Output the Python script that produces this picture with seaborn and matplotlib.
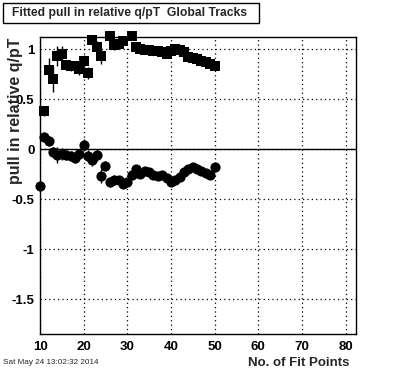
import numpy as np
import pandas as pd
import matplotlib
matplotlib.use("Agg")
import matplotlib.pyplot as plt
import seaborn as sns
from matplotlib.patches import Rectangle
from matplotlib.ticker import MultipleLocator

# ---- data ----
upper_x = [11, 12, 13, 14, 15, 16, 17, 18, 19, 20, 21, 22, 23, 24, 26, 27, 28, 29, 31,
           32, 33, 34, 35, 36, 37, 38, 39, 40, 41, 42, 43, 44, 45, 46, 47, 48, 49, 50]
upper_y = [0.38, 0.79, 0.70, 0.93, 0.95, 0.84, 0.83, 0.83, 0.80, 0.88, 0.76, 1.09, 1.02, 0.93,
           1.13, 1.04, 1.05, 1.08, 1.13,
           1.02, 1.00, 0.99, 0.99, 0.98, 0.98, 0.97, 0.95, 0.98, 1.00, 0.99, 0.97, 0.92, 0.91,
           0.90, 0.88, 0.87, 0.85, 0.83]
upper_err = [0.05, 0.12, 0.13, 0.10, 0.08, 0.05, 0.05, 0.05, 0.06, 0.06, 0.06, 0.05, 0.06, 0.08,
             0.04, 0.05, 0.04, 0.04, 0.03,
             0.03, 0.02, 0.02, 0.02, 0.02, 0.02, 0.02, 0.02, 0.02, 0.02, 0.02, 0.02, 0.02, 0.02,
             0.02, 0.02, 0.02, 0.02, 0.02]

lower_x = list(range(10, 51))
lower_y = [-0.37, 0.12, 0.08, -0.03, -0.06, -0.05, -0.06, -0.07, -0.09, -0.05, 0.04,
           -0.07, -0.11, -0.06, -0.27, -0.17, -0.33, -0.31, -0.31, -0.35, -0.33,
           -0.26, -0.20, -0.25, -0.22, -0.23, -0.26, -0.27, -0.26, -0.29, -0.33,
           -0.31, -0.28, -0.23, -0.20, -0.18, -0.20, -0.22, -0.24, -0.26, -0.18]
lower_err = [0.05, 0.05, 0.05, 0.05, 0.08, 0.06, 0.05, 0.05, 0.05, 0.05, 0.06,
             0.06, 0.06, 0.06, 0.07, 0.05, 0.05, 0.05, 0.04, 0.04, 0.04,
             0.03, 0.03, 0.03, 0.03, 0.03, 0.03, 0.03, 0.03, 0.03, 0.03,
             0.03, 0.03, 0.03, 0.03, 0.03, 0.03, 0.03, 0.03, 0.03, 0.03]

title = "Fitted pull in relative q/pT  Global Tracks"
xlabel = "No. of Fit Points"
ylabel = "pull in relative q/pT"
datestamp = "Sat May 24 13:02:32 2014"
xticks = [10, 20, 30, 40, 50, 60, 70, 80]
yticks = [-1.5, -1, -0.5, 0, 0.5, 1]
ytick_labels = ["-1.5", "-1", "-0.5", "0", "0.5", "1"]

# ---- figure ----
sns.set_style("white")
plt.rcParams['font.family'] = ['Liberation Sans', 'DejaVu Sans']
W, H = 396, 372
fig = plt.figure(figsize=(W / 100, H / 100), dpi=100)
ax = fig.add_axes([40 / W, 1 - 334 / H, (356 - 40) / W, (334 - 37) / H])

df_u = pd.DataFrame({"x": upper_x, "y": upper_y, "e": upper_err})
df_l = pd.DataFrame({"x": lower_x, "y": lower_y, "e": lower_err})

ax.errorbar(df_u["x"], df_u["y"], yerr=df_u["e"], fmt="none", ecolor="black", elinewidth=1, capsize=0, zorder=3)
ax.errorbar(df_l["x"], df_l["y"], yerr=df_l["e"], fmt="none", ecolor="black", elinewidth=1, capsize=0, zorder=3)
sns.scatterplot(data=df_u, x="x", y="y", marker="s", s=44, color="black", edgecolor="black",
                linewidth=0, ax=ax, zorder=4, clip_on=False)
sns.scatterplot(data=df_l, x="x", y="y", marker="o", s=54, color="black", edgecolor="black",
                linewidth=0, ax=ax, zorder=4, clip_on=False)

ax.axhline(0, color="black", linewidth=1, zorder=2)

ax.set_xlim(10, 82.4)
ax.set_ylim(-1.85, 1.123)
ax.set_xticks(xticks)
ax.set_yticks(yticks)
ax.set_yticklabels(ytick_labels)
ax.xaxis.set_minor_locator(MultipleLocator(2))
ax.yaxis.set_minor_locator(MultipleLocator(0.1))
ax.tick_params(axis="both", which="both", direction="in", top=False, right=False,
               labelsize=9.5, colors="black")
ax.tick_params(axis="x", which="major", length=9, width=1, pad=5)
ax.tick_params(axis="y", which="major", length=9, width=1, pad=4)
ax.tick_params(axis="both", which="minor", length=4.5, width=1)
for lab in ax.get_xticklabels() + ax.get_yticklabels():
    lab.set_fontweight("bold")
ax.grid(True, which="major", linestyle=(0, (1, 2.5)), color="black", linewidth=0.9)
for sp in ax.spines.values():
    sp.set_color("black")
    sp.set_linewidth(1)
ax.set_xlabel("")
ax.set_ylabel("")

fig.text(349 / W, 1 - 363 / H, xlabel, ha="right", va="center", fontsize=9.5, fontweight="bold")
fig.text(16 / W, 1 - 38 / H, ylabel, ha="center", va="top", rotation=90, fontsize=11.5, fontweight="bold")
fig.text(3 / W, 1 - 363 / H, datestamp, ha="left", va="center", fontsize=5.85)

fig.patches.append(Rectangle((3 / W, 1 - 23 / H), 256 / W, 20 / H, transform=fig.transFigure,
                             facecolor="white", edgecolor="black", linewidth=1))
fig.text(12 / W, 1 - 13 / H, title, ha="left", va="center", fontsize=8.7, fontweight="bold")

fig.savefig("out.png", dpi=100)
